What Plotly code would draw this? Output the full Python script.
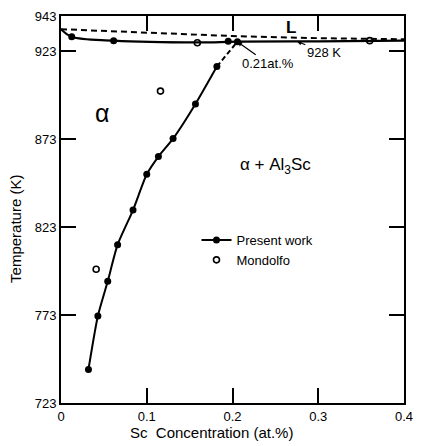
import plotly.graph_objects as go

# Solvus (present work)
solvus_x = [0.032, 0.043, 0.0545, 0.066, 0.084, 0.100, 0.1136, 0.1307, 0.1568, 0.1818]
solvus_T = [742.1, 772.5, 792.2, 813.0, 832.7, 853.0, 863.1, 873.3, 893.0, 914.3]
# dashed extension of solvus to eutectic point
ext_x = [0.1818, 0.2057]
ext_T = [914.3, 928.4]
# solid (solidus/eutectic) line near top
top_x = [0.0, 0.0125, 0.0614, 0.16, 0.2057, 0.3, 0.4]
top_T = [935.5, 931.2, 929.0, 928.0, 928.4, 928.6, 929.0]
# present work points on the top line
topPts_x = [0.0125, 0.0614, 0.195, 0.2057]
topPts_T = [931.2, 929.0, 928.7, 928.4]
# liquidus (dashed)
liq_x = [0.0, 0.1, 0.2, 0.3, 0.4]
liq_T = [935.5, 933.4, 931.6, 930.4, 929.8]
# Mondolfo data
mon_x = [0.041, 0.116, 0.159, 0.360]
mon_T = [799.0, 900.3, 927.8, 929.0]

xticks = [0, 0.1, 0.2, 0.3, 0.4]
xticklabels = ["0", "0.1", "0.2", "0.3", "0.4"]
yticks = [723, 773, 823, 873, 923, 943]

FONT = "Liberation Sans"

fig = go.Figure()
fig.add_trace(go.Scatter(x=liq_x, y=liq_T, mode="lines", showlegend=False,
                         line=dict(color="black", width=2, dash="6px,4px")))
fig.add_trace(go.Scatter(x=top_x, y=top_T, mode="lines", showlegend=False,
                         line=dict(color="black", width=2.2, shape="spline")))
fig.add_trace(go.Scatter(x=ext_x, y=ext_T, mode="lines", showlegend=False,
                         line=dict(color="black", width=2, dash="5px,3px")))
fig.add_trace(go.Scatter(x=solvus_x, y=solvus_T, mode="lines+markers", name="Present work",
                         line=dict(color="black", width=2, shape="spline", smoothing=0.6),
                         marker=dict(symbol="circle", size=7, color="black")))
fig.add_trace(go.Scatter(x=topPts_x, y=topPts_T, mode="markers", showlegend=False,
                         marker=dict(symbol="circle", size=7, color="black")))
fig.add_trace(go.Scatter(x=mon_x, y=mon_T, mode="markers", name="Mondolfo",
                         marker=dict(symbol="circle-open", size=6, color="black",
                                     line=dict(width=1.6, color="black"))))

ann = []
ann.append(dict(x=0.268, y=936.5, xref="x", yref="y", text="<b>L</b>", showarrow=False,
                font=dict(size=17, family=FONT, color="black")))
ann.append(dict(x=0.2057, y=928.4, xref="x", yref="y", text="0.21at.%", showarrow=True,
                ax=31, ay=22, arrowhead=2, arrowsize=0.8, arrowwidth=1.2, arrowcolor="black",
                font=dict(size=13, family=FONT, color="black")))
ann.append(dict(x=0.275, y=928.6, xref="x", yref="y", text="928 K", showarrow=True,
                ax=27, ay=11, arrowhead=2, arrowsize=0.8, arrowwidth=1.2, arrowcolor="black",
                font=dict(size=13, family=FONT, color="black")))
ann.append(dict(x=0.048, y=888, xref="x", yref="y", text="α", showarrow=False,
                font=dict(size=25, family=FONT, color="black")))
ann.append(dict(x=0.25, y=858, xref="x", yref="y", text="α + Al<sub>3</sub>Sc", showarrow=False,
                font=dict(size=17, family=FONT, color="black")))
ann.append(dict(x=0.44, y=-0.077, xref="paper", yref="paper", text="Sc  Concentration (at.%)",
                xanchor="center", yanchor="middle",
                showarrow=False, font=dict(size=15, family=FONT, color="black")))
ann.append(dict(x=-0.131, y=0.45, xref="paper", yref="paper", text="Temperature (K)",
                xanchor="center", yanchor="middle",
                textangle=-90, showarrow=False, font=dict(size=15, family=FONT, color="black")))

fig.update_layout(
    width=422, height=446,
    margin=dict(l=61, r=9, t=12, b=43),
    paper_bgcolor="white", plot_bgcolor="white",
    font=dict(family=FONT, size=13, color="black"),
    annotations=ann,
    legend=dict(x=0.395, y=0.46, xanchor="left", yanchor="top", bgcolor="rgba(0,0,0,0)",
                font=dict(size=13, family=FONT), tracegroupgap=0, itemwidth=30),
    xaxis=dict(range=[0, 0.4], tickvals=xticks, ticktext=xticklabels, ticks="inside",
               ticklen=15, tickwidth=2, tickcolor="black", showline=True, linewidth=2,
               linecolor="black", mirror="ticks", showgrid=False, zeroline=False,
               tickfont=dict(size=13, family=FONT)),
    yaxis=dict(range=[723, 943], tickvals=yticks, ticks="inside", ticklen=15, tickwidth=2,
               tickcolor="black", showline=True, linewidth=2, linecolor="black",
               mirror="ticks", showgrid=False, zeroline=False,
               tickfont=dict(size=13, family=FONT)),
)

fig.write_html("out.html")
